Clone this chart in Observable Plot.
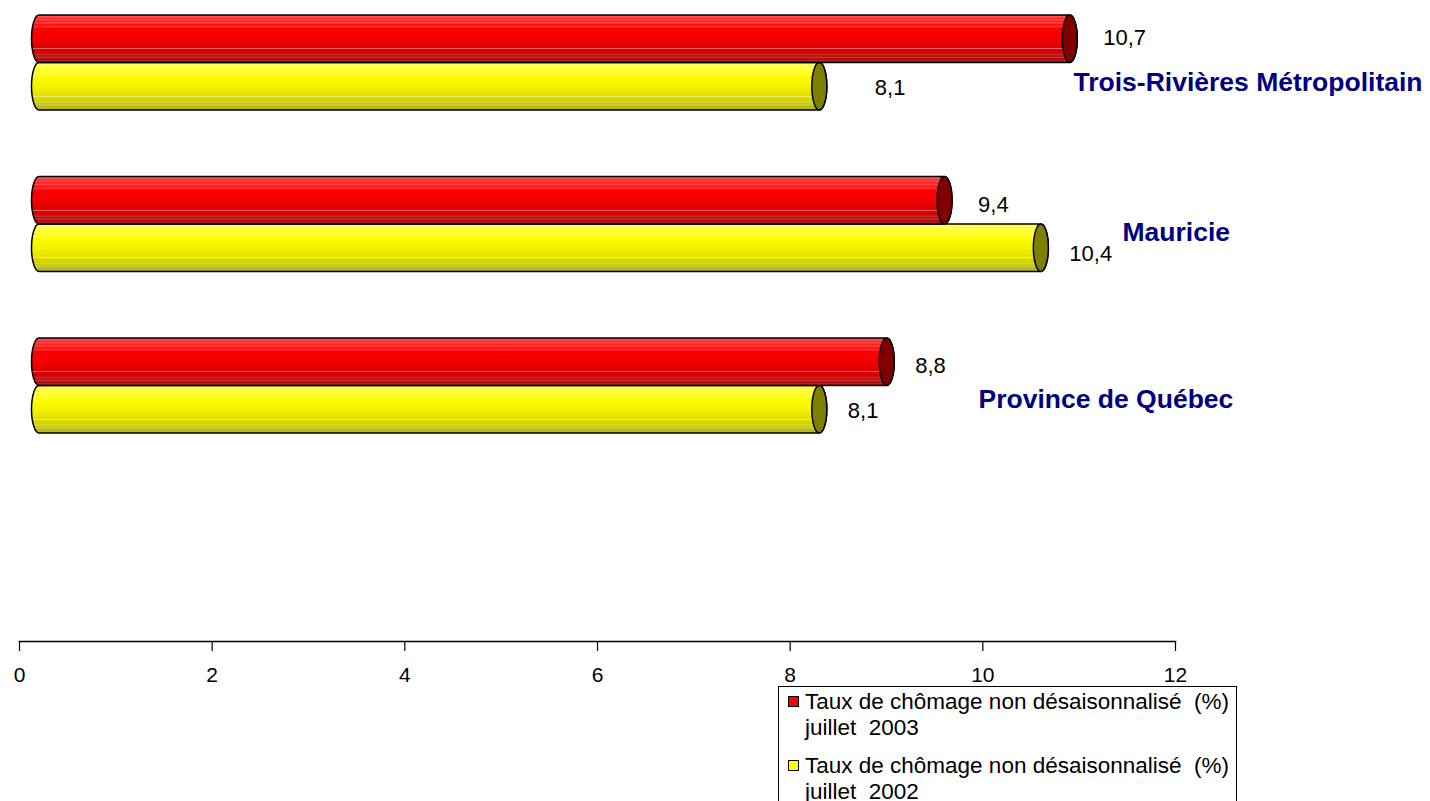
<!DOCTYPE html>
<html>
<head>
<meta charset="utf-8">
<script src="https://cdn.jsdelivr.net/npm/d3@7"></script>
<script src="https://cdn.jsdelivr.net/npm/@observablehq/plot@0.6"></script>
<style>
  html, body { margin: 0; padding: 0; background: #fff; }
  body { width: 1430px; height: 801px; overflow: hidden; position: relative;
         font-family: "Liberation Sans", Arial, sans-serif; }
  #chart { position: absolute; left: 0; top: 0; }
  #chart g[aria-label="x-axis tick label"] { font-size: 21px; }
  #legend { position: absolute; left: 778px; top: 686px; width: 459px; height: 140px;
            border: 1px solid #000; background: #fff; box-sizing: border-box; }
  .entry { position: absolute; left: 26px; font-size: 22.5px; line-height: 26px;
           white-space: pre; color: #000; }
  .swatch { position: absolute; left: 9px; width: 9px; height: 9px; border: 1.5px solid #000; }
</style>
</head>
<body>
<div id="chart"></div>
<div id="legend"></div>
<script>
// ---- data ----
const categories = ["Trois-Rivières Métropolitain", "Mauricie", "Province de Québec"];
const seriesNames = ["juillet  2003", "juillet  2002"];
const values2003 = [10.7, 9.4, 8.8];
const values2002 = [8.1, 10.4, 8.1];
const xTicks = [0, 2, 4, 6, 8, 10, 12];
const legendTitle = "Taux de chômage non désaisonnalisé  (%)";

const rows2003 = categories.map((c, i) => ({cat: c, value: values2003[i], series: seriesNames[0]}));
const rows2002 = categories.map((c, i) => ({cat: c, value: values2002[i], series: seriesNames[1]}));

// ---- layout / style ----
const yRange = [15, 433];
const pad = 0.412;
const step = (yRange[1] - yRange[0]) / (categories.length - pad);
const bw = step * (1 - pad);
const half = bw / 2;
const depth = 20;      // 3D shift of the cylinders
const capR = 7.5;      // half width of the end ellipse
const fmt = v => d3.format(".1f")(v).replace(".", ",");

function cylinder(rows, top, gradId, capFill) {
  const inset = top ? {insetBottom: half} : {insetTop: half};
  return [
    Plot.rect(rows, {
      x1: () => 0, x2: "value", y: "cat", ...inset,
      dx: depth, insetLeft: -capR, insetRight: -capR,
      rx: capR, ry: half / 2,
      fill: `url(#${gradId})`, stroke: "#000", strokeWidth: 1.5
    }),
    Plot.rect(rows, {
      x1: "value", x2: "value", y: "cat", ...inset,
      dx: depth, insetLeft: -capR, insetRight: -capR,
      rx: capR, ry: half / 2,
      fill: capFill, stroke: "#000", strokeWidth: 1.5
    })
  ];
}

// label offsets (px) relative to cap centre, per bar
const gap2003 = [33, 33, 28], gap2002 = [55, 28, 28];
const dy2003 = [-1.5, 4, 3.5], dy2002 = [1.5, 5.5, 1.5];
// category label placement (px) relative to x = 12 and band centre
const catDx = [-102, -53, -197], catDy = [20, 8, 13.5];

const valueLabels = [
  ...rows2003.map((r, i) => Plot.text([r], {
    x: "value", y: "cat", text: d => fmt(d.value), textAnchor: "start",
    dx: depth + gap2003[i], dy: -half / 2 + dy2003[i], fontSize: 22, fill: "#000"
  })),
  ...rows2002.map((r, i) => Plot.text([r], {
    x: "value", y: "cat", text: d => fmt(d.value), textAnchor: "start",
    dx: depth + gap2002[i], dy: half / 2 + dy2002[i], fontSize: 22, fill: "#000"
  }))
];

const catLabels = categories.map((c, i) => Plot.text([c], {
  x: () => 12, y: d => d, text: d => d, textAnchor: "start",
  dx: catDx[i], dy: catDy[i], fontSize: 26.5, fontWeight: "bold", fill: "#000080"
}));

const svg = Plot.plot({
  width: 1430, height: 801,
  marginLeft: 19, marginRight: 255, marginTop: 15, marginBottom: 160,
  style: {fontFamily: "'Liberation Sans', Arial, sans-serif", fontSize: "21px", color: "#000", background: "#fff", overflow: "visible"},
  x: {domain: [0, 12], label: null},
  y: {type: "band", domain: categories, range: yRange, paddingInner: pad, paddingOuter: 0, align: 0, round: false, axis: null, label: null},
  marks: [
    Plot.frame({anchor: "bottom", stroke: "#000", strokeWidth: 1.5}),
    Plot.axisX({ticks: xTicks, tickFormat: d => String(d), tickSize: 10, tickPadding: 16, fontSize: 21, stroke: "#000", strokeWidth: 1.2, label: null}),
    ...cylinder(rows2002, false, "gradYellow", "#808000"),
    ...cylinder(rows2003, true, "gradRed", "#800000"),
    ...valueLabels,
    ...catLabels
  ]
});

// gradients for the cylinder bodies
const redStops = [
  [0, "#ff2a2a"], [0.04, "#ff5a5a"], [0.07, "#ff2020"], [0.10, "#ff5050"], [0.13, "#ff1a1a"],
  [0.17, "#ff4a4a"], [0.20, "#ff1010"], [0.25, "#ff3030"], [0.28, "#ff0000"], [0.50, "#f20000"],
  [0.62, "#e60000"], [0.695, "#de0000"], [0.71, "#e89494"], [0.725, "#dc0000"], [0.80, "#d00000"],
  [0.84, "#cc3232"], [0.86, "#c00000"], [0.90, "#c63c3c"], [0.92, "#b00000"], [0.96, "#a82828"], [1, "#900000"]
];
const yellowStops = [
  [0, "#ffff30"], [0.04, "#ffff70"], [0.07, "#ffff20"], [0.10, "#ffff66"], [0.13, "#ffff18"],
  [0.17, "#ffff55"], [0.20, "#ffff10"], [0.25, "#ffff40"], [0.28, "#ffff00"], [0.50, "#f2f200"],
  [0.62, "#e8e800"], [0.695, "#e0e000"], [0.71, "#f4f4a0"], [0.725, "#dcdc00"], [0.80, "#d2d200"],
  [0.84, "#d6d644"], [0.86, "#c8c800"], [0.90, "#cccc44"], [0.92, "#bcbc00"], [0.96, "#b8b834"], [1, "#a8a800"]
];
const defs = d3.select(svg).insert("defs", ":first-child");
function addGrad(id, stops) {
  const g = defs.append("linearGradient").attr("id", id)
    .attr("x1", 0).attr("y1", 0).attr("x2", 0).attr("y2", 1);
  stops.forEach(([o, c]) => g.append("stop").attr("offset", o).attr("stop-color", c));
}
addGrad("gradRed", redStops);
addGrad("gradYellow", yellowStops);

document.getElementById("chart").appendChild(svg);

// legend
const legend = document.getElementById("legend");
const swatchColors = ["#ff0000", "#ffff00"];
seriesNames.forEach((s, i) => {
  const topPx = 2 + i * 64;
  const sw = document.createElement("div");
  sw.className = "swatch";
  sw.style.top = (topPx + 7) + "px";
  sw.style.background = swatchColors[i];
  legend.appendChild(sw);
  const t = document.createElement("div");
  t.className = "entry";
  t.style.top = topPx + "px";
  t.textContent = legendTitle + "\n" + s;
  legend.appendChild(t);
});
</script>
</body>
</html>
